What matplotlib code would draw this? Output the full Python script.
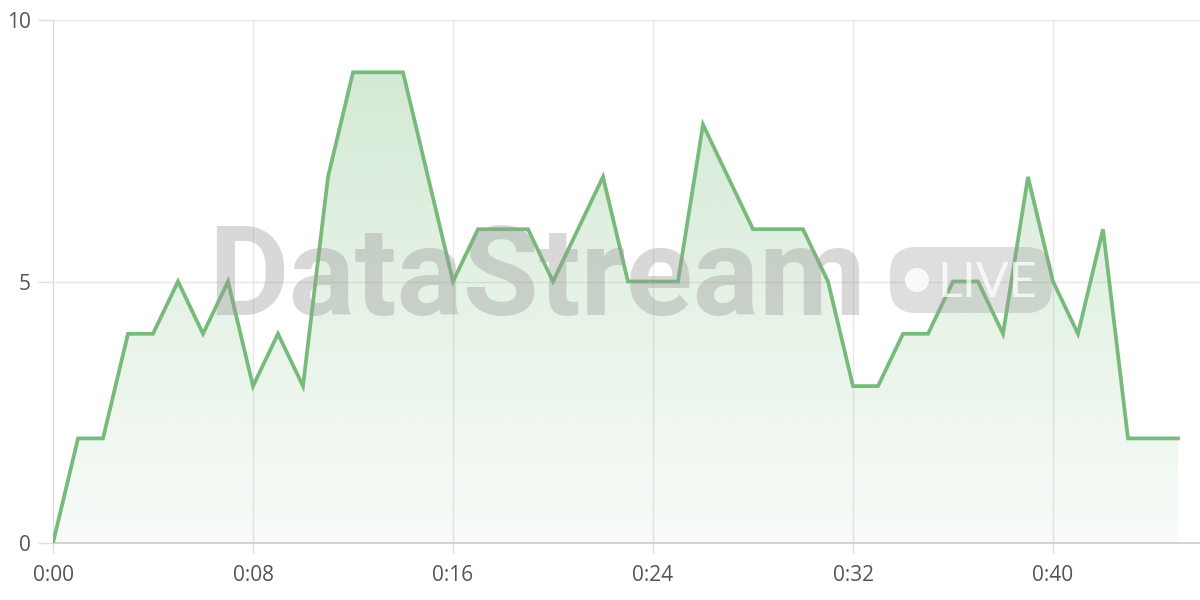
"""
Live stream count chart with DataStream watermark.
"""

import numpy as np
import matplotlib
matplotlib.use("Agg")
import matplotlib.pyplot as plt
from matplotlib.patches import FancyBboxPatch, Circle, Polygon

# data: one sample per second
seconds = list(range(46))
values = [0, 2, 2, 4, 4, 5, 4, 5, 3, 4, 3, 7, 9, 9, 9, 7, 5, 6, 6, 6,
          5, 6, 7, 5, 5, 5, 8, 7, 6, 6, 6, 5, 3, 3, 4, 4, 5, 5, 4, 7,
          5, 4, 6, 2, 2, 2]
x_ticks = [0, 8, 16, 24, 32, 40]
x_labels = ["0:00", "0:08", "0:16", "0:24", "0:32", "0:40"]
y_ticks = [0, 5, 10]

GREEN = "#77bb7a"
W, H = 1200, 600

plt.rcParams['font.family'] = ['Open Sans', 'DejaVu Sans']

fig = plt.figure(figsize=(12, 6), dpi=100)
ax = fig.add_axes([53 / W, 1 - 543 / H, 1 - 53 / W, (543 - 20) / H])

# gradient fill under the line, clipped to the area polygon
grad = np.linspace(0.05, 0.32, 256).reshape(-1, 1)
rgba = np.zeros((256, 1, 4))
rgba[..., :3] = matplotlib.colors.to_rgb(GREEN)
rgba[..., 3] = grad
img = ax.imshow(rgba, extent=[0, seconds[-1], 0, max(values)], origin='lower',
                aspect='auto', zorder=1, interpolation='bilinear')
poly = Polygon(list(zip(seconds, values)) + [(seconds[-1], 0), (0, 0)],
               closed=True, transform=ax.transData, facecolor='none', edgecolor='none')
ax.add_patch(poly)
img.set_clip_path(poly)
ax.set_xlim(0, (W - 53) / 25)
ax.set_ylim(0, 10)

ax.plot(seconds, values, color=GREEN, lw=2.7, zorder=4, solid_joinstyle='miter')

ax.set_xticks(x_ticks)
ax.set_xticklabels(x_labels)
ax.set_yticks(y_ticks)
ax.grid(True, color='#e6e6e6', lw=1.0, zorder=0)
ax.set_axisbelow(True)
for side in ['top', 'right']:
    ax.spines[side].set_visible(False)
ax.spines['bottom'].set_color('#d0d0d0')
ax.spines['left'].set_color('#dcdcdc')
ax.spines['bottom'].set_linewidth(1.3)
ax.tick_params(axis='both', colors='#e0e0e0', labelcolor='#555555',
               labelsize=15, length=11, width=1.0)
ax.tick_params(axis='x', length=7, pad=9)
ax.tick_params(axis='y', pad=5)

# watermark
wm = dict(color='#9a9a9a', alpha=0.38, zorder=3)
fig.text(208 / W, 1 - 315 / H, "DataStream", fontsize=89, fontweight='bold',
         family=['Roboto', 'DejaVu Sans'], ha='left', va='baseline', **wm)
badge = FancyBboxPatch((890, H - 313), 162, 66,
                       boxstyle="round,pad=0,rounding_size=26",
                       transform=None, facecolor='#9a9a9a', edgecolor='none',
                       alpha=0.32, zorder=3)
fig.patches.append(badge)
fig.patches.append(Circle((917, H - 280), 12, transform=None,
                          facecolor='white', edgecolor='none', alpha=0.85, zorder=3))
fig.text(938 / W, 1 - 297 / H, "LIVE", fontsize=35, family=['Lato', 'DejaVu Sans'],
         color='white', alpha=0.75, ha='left', va='baseline', zorder=3)

fig.savefig("out.png", dpi=100)
